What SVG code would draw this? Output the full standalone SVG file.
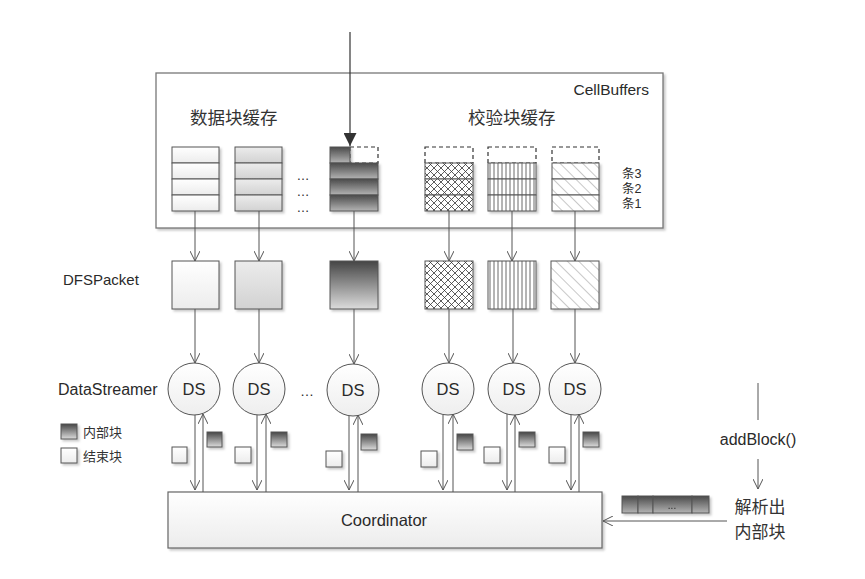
<svg xmlns="http://www.w3.org/2000/svg" width="865" height="579" viewBox="0 0 865 579">
<defs>
  <style>
    .t{font-family:"Liberation Sans","Noto Sans CJK SC",sans-serif;fill:#2a2a2a}
    .cn{font-family:"Noto Sans CJK SC","Liberation Sans",sans-serif;fill:#333}
    .ln{stroke:#555;stroke-width:1;fill:none}
    .box{stroke:#555;stroke-width:1}
    .dash{fill:#fff;stroke:#333;stroke-width:1.2;stroke-dasharray:4,3}
  </style>
  <linearGradient id="gWhite" x1="0" y1="0" x2="0" y2="1"><stop offset="0" stop-color="#ffffff"/><stop offset="1" stop-color="#ececec"/></linearGradient>
  <linearGradient id="gLight" x1="0" y1="0" x2="0" y2="1"><stop offset="0" stop-color="#ececec"/><stop offset="1" stop-color="#d2d2d2"/></linearGradient>
  <linearGradient id="gDark" x1="0" y1="0" x2="0" y2="1"><stop offset="0" stop-color="#454545"/><stop offset="1" stop-color="#dcdcdc"/></linearGradient>
  <linearGradient id="gRow" x1="0" y1="0" x2="0" y2="1"><stop offset="0" stop-color="#4a4a4a"/><stop offset="1" stop-color="#b4b4b4"/></linearGradient>
  <linearGradient id="gCircle" x1="0" y1="0" x2="0" y2="1"><stop offset="0" stop-color="#ffffff"/><stop offset="1" stop-color="#eeeeee"/></linearGradient>
  <pattern id="pCross" width="7" height="7" patternUnits="userSpaceOnUse">
    <rect width="7" height="7" fill="#fff"/>
    <path d="M0,0 L7,7 M7,0 L0,7" stroke="#333" stroke-width="0.8"/>
  </pattern>
  <pattern id="pVert" width="4" height="4" patternUnits="userSpaceOnUse">
    <rect width="4" height="4" fill="#fff"/>
    <path d="M2,0 V4" stroke="#444" stroke-width="0.8"/>
  </pattern>
  <pattern id="pDiag" width="8" height="8" patternUnits="userSpaceOnUse" patternTransform="rotate(-45)">
    <rect width="8" height="8" fill="#fff"/>
    <path d="M0,0 V8" stroke="#aaa" stroke-width="1.3"/>
  </pattern>
  <filter id="sh" x="-20%" y="-20%" width="150%" height="150%">
    <feDropShadow dx="2" dy="2" stdDeviation="1" flood-color="#888" flood-opacity="0.45"/>
  </filter>
  <marker id="arr" viewBox="0 0 10 10" refX="10" refY="5" markerWidth="10" markerHeight="10" markerUnits="userSpaceOnUse" orient="auto">
    <path d="M0,0 L10,5 L0,10" fill="none" stroke="#555" stroke-width="1"/>
  </marker>
  <marker id="solid" viewBox="0 0 10 10" refX="10" refY="5" markerWidth="13" markerHeight="13" markerUnits="userSpaceOnUse" orient="auto">
    <path d="M0,0 L10,5 L0,10 Z" fill="#333"/>
  </marker>
</defs>
<rect width="865" height="579" fill="#fff"/>

<g id="cellbuffers">
  <rect x="156" y="73" width="507" height="155" fill="#fff" stroke="#777" stroke-width="1.3" filter="url(#sh)"/>
  <text class="t" x="649" y="95" font-size="15.5" text-anchor="end">CellBuffers</text>
  <text class="cn" x="190" y="124" font-size="17.5">数据块缓存</text>
  <text class="cn" x="468" y="124" font-size="17.5">校验块缓存</text>
  <text class="t" x="622" y="178" font-size="12.5">条3</text>
  <text class="t" x="622" y="193" font-size="12.5">条2</text>
  <text class="t" x="622" y="208" font-size="12.5">条1</text>
</g>

<g id="buf1" filter="url(#sh)">
  <rect class="box" x="172" y="147" width="47" height="16" fill="url(#gWhite)"/>
  <rect class="box" x="172" y="163" width="47" height="16" fill="url(#gWhite)"/>
  <rect class="box" x="172" y="179" width="47" height="16" fill="url(#gWhite)"/>
  <rect class="box" x="172" y="195" width="47" height="16" fill="url(#gWhite)"/>
</g>
<g id="buf2" filter="url(#sh)">
  <rect class="box" x="235" y="147" width="47" height="16" fill="url(#gLight)"/>
  <rect class="box" x="235" y="163" width="47" height="16" fill="url(#gLight)"/>
  <rect class="box" x="235" y="179" width="47" height="16" fill="url(#gLight)"/>
  <rect class="box" x="235" y="195" width="47" height="16" fill="url(#gLight)"/>
</g>
<g id="bufdots">
  <text class="t" x="303" y="180" font-size="13" text-anchor="middle">…</text>
  <text class="t" x="303" y="196" font-size="13" text-anchor="middle">…</text>
  <text class="t" x="303" y="212" font-size="13" text-anchor="middle">…</text>
</g>
<g id="buf3">
  <rect class="dash" x="350" y="147" width="28" height="16"/>
  <g filter="url(#sh)">
    <rect class="box" x="330" y="147" width="20" height="16" fill="url(#gRow)"/>
    <rect class="box" x="330" y="163" width="48" height="16" fill="url(#gRow)"/>
    <rect class="box" x="330" y="179" width="48" height="16" fill="url(#gRow)"/>
    <rect class="box" x="330" y="195" width="48" height="16" fill="url(#gRow)"/>
  </g>
</g>
<g id="buf4">
  <rect class="dash" x="425" y="147" width="48" height="16"/>
  <g filter="url(#sh)">
    <rect class="box" x="425" y="163" width="48" height="16" fill="url(#pCross)"/>
    <rect class="box" x="425" y="179" width="48" height="16" fill="url(#pCross)"/>
    <rect class="box" x="425" y="195" width="48" height="16" fill="url(#pCross)"/>
  </g>
</g>
<g id="buf5">
  <rect class="dash" x="488" y="147" width="48" height="16"/>
  <g filter="url(#sh)">
    <rect class="box" x="488" y="163" width="48" height="16" fill="url(#pVert)"/>
    <rect class="box" x="488" y="179" width="48" height="16" fill="url(#pVert)"/>
    <rect class="box" x="488" y="195" width="48" height="16" fill="url(#pVert)"/>
  </g>
</g>
<g id="buf6">
  <rect class="dash" x="552" y="147" width="47" height="16"/>
  <g filter="url(#sh)">
    <rect class="box" x="552" y="163" width="47" height="16" fill="url(#pDiag)"/>
    <rect class="box" x="552" y="179" width="47" height="16" fill="url(#pDiag)"/>
    <rect class="box" x="552" y="195" width="47" height="16" fill="url(#pDiag)"/>
  </g>
</g>

<g id="labels">
  <text class="t" x="63" y="285" font-size="15">DFSPacket</text>
  <text class="t" x="58" y="395" font-size="16">DataStreamer</text>
</g>

<g id="packets" filter="url(#sh)">
  <rect id="pkt1" class="box" x="172" y="261" width="47" height="48" fill="url(#gWhite)"/>
  <rect id="pkt2" class="box" x="235" y="261" width="47" height="48" fill="url(#gLight)"/>
  <rect id="pkt3" class="box" x="330" y="261" width="48" height="48" fill="url(#gDark)"/>
  <rect id="pkt4" class="box" x="425" y="261" width="48" height="48" fill="url(#pCross)"/>
  <rect id="pkt5" class="box" x="488" y="261" width="48" height="48" fill="url(#pVert)"/>
  <rect id="pkt6" class="box" x="551" y="261" width="48" height="48" fill="url(#pDiag)"/>
</g>

<g id="streamers">
  <g id="ds1"><circle cx="194" cy="389" r="26" fill="url(#gCircle)" stroke="#555"/><text class="t" x="194" y="395" font-size="16.5" text-anchor="middle">DS</text></g>
  <g id="ds2"><circle cx="259" cy="389" r="26" fill="url(#gCircle)" stroke="#555"/><text class="t" x="259" y="395" font-size="16.5" text-anchor="middle">DS</text></g>
  <text class="t" x="307" y="396" font-size="14" text-anchor="middle">…</text>
  <g id="ds3"><circle cx="353" cy="390" r="26" fill="url(#gCircle)" stroke="#555"/><text class="t" x="353" y="396" font-size="16.5" text-anchor="middle">DS</text></g>
  <g id="ds4"><circle cx="448" cy="389" r="26" fill="url(#gCircle)" stroke="#555"/><text class="t" x="448" y="395" font-size="16.5" text-anchor="middle">DS</text></g>
  <g id="ds5"><circle cx="514" cy="389" r="26" fill="url(#gCircle)" stroke="#555"/><text class="t" x="514" y="395" font-size="16.5" text-anchor="middle">DS</text></g>
  <g id="ds6"><circle cx="575" cy="389" r="26" fill="url(#gCircle)" stroke="#555"/><text class="t" x="575" y="395" font-size="16.5" text-anchor="middle">DS</text></g>
</g>

<g id="legend">
  <rect class="box" x="61" y="424" width="16" height="15" fill="url(#gDark)" filter="url(#sh)"/>
  <text class="cn" x="83" y="437" font-size="13">内部块</text>
  <rect class="box" x="61" y="448" width="16" height="15" fill="url(#gWhite)" filter="url(#sh)"/>
  <text class="cn" x="83" y="461" font-size="13">结束块</text>
</g>

<g id="blocks" filter="url(#sh)">
  <rect class="box" x="172" y="447" width="15" height="16" fill="url(#gWhite)"/>
  <rect class="box" x="207" y="432" width="15" height="15" fill="url(#gDark)"/>
  <rect class="box" x="235" y="447" width="16" height="16" fill="url(#gWhite)"/>
  <rect class="box" x="271" y="432" width="16" height="15" fill="url(#gDark)"/>
  <rect class="box" x="326" y="451" width="16" height="16" fill="url(#gWhite)"/>
  <rect class="box" x="361" y="434" width="16" height="16" fill="url(#gDark)"/>
  <rect class="box" x="421" y="451" width="16" height="16" fill="url(#gWhite)"/>
  <rect class="box" x="457" y="434" width="16" height="16" fill="url(#gDark)"/>
  <rect class="box" x="484" y="447" width="16" height="16" fill="url(#gWhite)"/>
  <rect class="box" x="519" y="432" width="16" height="15" fill="url(#gDark)"/>
  <rect class="box" x="549" y="447" width="16" height="16" fill="url(#gWhite)"/>
  <rect class="box" x="583" y="432" width="16" height="15" fill="url(#gDark)"/>
</g>

<g id="coordinator">
  <rect x="168" y="492" width="434" height="56" fill="url(#gWhite)" stroke="#666" stroke-width="1.2" filter="url(#sh)"/>
  <text class="t" x="384" y="526" font-size="16.5" text-anchor="middle">Coordinator</text>
</g>

<g id="addblock">
  <text class="t" x="758" y="445" font-size="16" text-anchor="middle">addBlock()</text>
  <text class="cn" x="760" y="513" font-size="17" text-anchor="middle">解析出</text>
  <text class="cn" x="760" y="538" font-size="17" text-anchor="middle">内部块</text>
</g>

<g id="blockstrip" filter="url(#sh)">
  <rect class="box" x="622" y="496" width="16" height="17" fill="url(#gRow)"/>
  <rect class="box" x="638" y="496" width="15" height="17" fill="url(#gRow)"/>
  <rect class="box" x="653" y="496" width="39" height="17" fill="url(#gRow)"/>
  <rect class="box" x="692" y="496" width="17" height="17" fill="url(#gRow)"/>
  <text class="t" x="672" y="509" font-size="10" text-anchor="middle" fill="#222">...</text>
</g>

<g id="connectors">
  <path d="M350,32 V146" stroke="#333" stroke-width="1.2" fill="none" marker-end="url(#solid)"/>
  <path class="ln" d="M195,211 V261" marker-end="url(#arr)"/>
  <path class="ln" d="M259,211 V261" marker-end="url(#arr)"/>
  <path class="ln" d="M354,211 V261" marker-end="url(#arr)"/>
  <path class="ln" d="M449,211 V261" marker-end="url(#arr)"/>
  <path class="ln" d="M512,211 V261" marker-end="url(#arr)"/>
  <path class="ln" d="M575,211 V261" marker-end="url(#arr)"/>
  <path class="ln" d="M195,309 V363" marker-end="url(#arr)"/>
  <path class="ln" d="M259,309 V363" marker-end="url(#arr)"/>
  <path class="ln" d="M354,309 V364" marker-end="url(#arr)"/>
  <path class="ln" d="M449,309 V363" marker-end="url(#arr)"/>
  <path class="ln" d="M513,309 V363" marker-end="url(#arr)"/>
  <path class="ln" d="M575,309 V363" marker-end="url(#arr)"/>
  <path class="ln" d="M195,415 V490" marker-end="url(#arr)"/>
  <path class="ln" d="M257,415 V490" marker-end="url(#arr)"/>
  <path class="ln" d="M349,416 V490" marker-end="url(#arr)"/>
  <path class="ln" d="M443,415 V490" marker-end="url(#arr)"/>
  <path class="ln" d="M507,414 V490" marker-end="url(#arr)"/>
  <path class="ln" d="M571,415 V490" marker-end="url(#arr)"/>
  <path class="ln" d="M203,492 V414" marker-end="url(#arr)"/>
  <path class="ln" d="M266,492 V414" marker-end="url(#arr)"/>
  <path class="ln" d="M358,492 V415" marker-end="url(#arr)"/>
  <path class="ln" d="M453,492 V414" marker-end="url(#arr)"/>
  <path class="ln" d="M515,492 V415" marker-end="url(#arr)"/>
  <path class="ln" d="M579,492 V414" marker-end="url(#arr)"/>
  <path class="ln" d="M758,383 V420"/>
  <path class="ln" d="M758,459 V489" marker-end="url(#arr)"/>
  <path class="ln" d="M727,521 H603" marker-end="url(#arr)"/>
</g>
</svg>
